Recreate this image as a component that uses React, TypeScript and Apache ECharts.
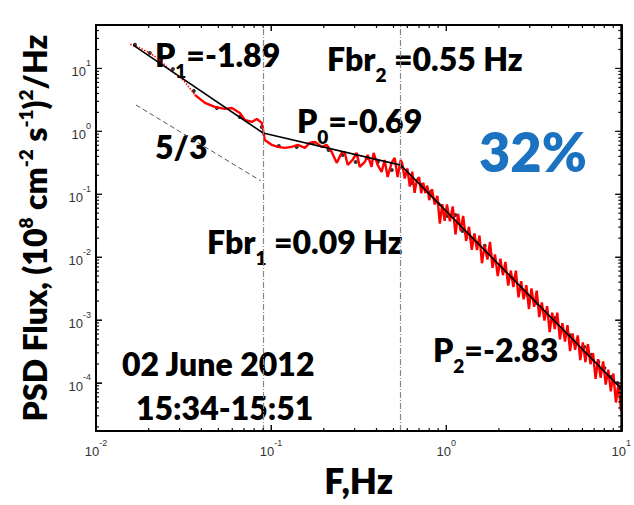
import React, { useEffect, useRef } from "react";
import * as echarts from "echarts";

// ---- axis extents ----
const X_MIN = 0.01;
const X_MAX = 10;
const Y_MIN = 1.72e-5;
const Y_MAX = 49;

// ---- red PSD curve (low-frequency dotted part) ----
const redLowFreq = [0.0157, 0.0178, 0.0203, 0.0232, 0.0264, 0.0294, 0.0322, 0.0367];
const redLowPsd = [24.2, 21.2, 17.6, 13.6, 9.47, 7.6, 6.1, 3.79];

// ---- red PSD curve (main part) ----
const redFreq = [
  0.0367, 0.0419, 0.0477, 0.0545, 0.0597, 0.0663, 0.0708, 0.0776, 0.0829, 0.0885,
  0.092, 0.101, 0.109, 0.12, 0.131, 0.142, 0.156, 0.166, 0.178, 0.195,
  0.208, 0.222, 0.237, 0.253, 0.263, 0.274, 0.292, 0.308, 0.321, 0.343,
  0.356, 0.375, 0.385, 0.406, 0.428, 0.445, 0.463, 0.488, 0.508, 0.528,
  0.55, 0.56, 0.58, 0.6, 0.62, 0.64, 0.66, 0.68, 0.7, 0.72,
  0.74, 0.76, 0.78, 0.8, 0.83, 0.86, 0.89, 0.92, 0.95, 0.98,
  1.01, 1.05, 1.09, 1.13, 1.17, 1.21, 1.25, 1.3, 1.35, 1.4,
  1.45, 1.5, 1.55, 1.6, 1.66, 1.72, 1.78, 1.84, 1.9, 1.97,
  2.04, 2.11, 2.18, 2.26, 2.34, 2.42, 2.5, 2.59, 2.68, 2.77,
  2.87, 2.97, 3.07, 3.18, 3.29, 3.4, 3.52, 3.64, 3.77, 3.9,
  4.03, 4.17, 4.31, 4.46, 4.61, 4.77, 4.93, 5.1, 5.27, 5.45,
  5.64, 5.83, 6.03, 6.24, 6.45, 6.67, 6.9, 7.13, 7.37, 7.62,
  7.88, 8.15, 8.43, 8.72, 9.01, 9.32, 9.64, 9.97,
];
const redPsd = [
  3.79, 2.83, 2.44, 2.27, 2.35, 1.96, 1.52, 1.41, 1.57, 1.36,
  0.73, 0.608, 0.565, 0.545, 0.565, 0.608, 0.545, 0.655, 0.678, 0.565,
  0.608, 0.47, 0.315, 0.454, 0.47, 0.292, 0.351, 0.454, 0.272, 0.326,
  0.421, 0.272, 0.454, 0.292, 0.226, 0.351, 0.188, 0.315, 0.378, 0.188,
  0.351, 0.311, 0.178, 0.256, 0.132, 0.229, 0.105, 0.167, 0.186, 0.104,
  0.152, 0.104, 0.137, 0.0804, 0.12, 0.0687, 0.0944, 0.034, 0.0695, 0.0377,
  0.069, 0.0372, 0.0638, 0.0229, 0.0488, 0.026, 0.0453, 0.0181, 0.0303, 0.0131,
  0.0237, 0.0129, 0.022, 0.008, 0.0154, 0.00916, 0.0175, 0.00676, 0.011, 0.00499,
  0.0094, 0.00516, 0.00838, 0.00353, 0.00611, 0.00333, 0.00608, 0.0023, 0.00416, 0.00213,
  0.00358, 0.00149, 0.00318, 0.00162, 0.00293, 0.00111, 0.00191, 0.00098, 0.00166, 0.000643,
  0.00131, 0.000718, 0.00131, 0.000493, 0.000893, 0.000456, 0.00083, 0.000321, 0.000612, 0.000337,
  0.000569, 0.00023, 0.00044, 0.000214, 0.000415, 0.000199, 0.000299, 0.000116, 0.000238, 0.000121,
  0.00022, 0.000094, 0.000162, 0.0000736, 0.000141, 0.0000488, 0.000099, 0.0000357,
];

// ---- binned averages (black dots) ----
const dotFreq = [
  0.0167, 0.0203, 0.0275, 0.0362, 0.049, 0.0662, 0.0885, 0.1107, 0.14, 0.173,
  0.213, 0.256, 0.304, 0.356, 0.407, 0.489, 0.557, 0.635, 0.724, 0.815,
  0.906, 1.02, 1.13, 1.24, 1.38, 1.51, 1.66, 1.79, 2.12, 2.39,
  2.69, 2.91, 3.28, 3.74, 4.15, 4.61, 5.06, 5.62, 6.16, 6.75,
  7.4, 8.01, 8.79, 9.5,
];
const dotPsd = [
  23.7, 17.6, 9.8, 4.39, 2.35, 1.69, 1.17, 0.586, 0.565, 0.655,
  0.506, 0.421, 0.326, 0.378, 0.326, 0.243, 0.272, 0.151, 0.141, 0.109,
  0.0701, 0.0452, 0.0469, 0.0261, 0.0202, 0.0168, 0.0151, 0.0112, 0.00604, 0.00467,
  0.00312, 0.00251, 0.00187, 0.00135, 0.00108, 0.000748, 0.000579, 0.000483, 0.000373, 0.000279,
  0.000216, 0.000173, 0.000125, 0.0001,
];

// ---- broken power-law fit ----
const fitFreq = [0.0163, 0.09, 0.55, 10];
const fitPsd = [23.5, 0.94, 0.29, 8.1e-5];

// ---- 5/3 reference slope ----
const refFreq = [0.0169, 0.0873];
const refPsd = [2.63, 0.163];

// ---- break frequencies ----
const breakFreqs = [0.09, 0.55];

// ---- tick values ----
const xMajorTicks = [0.01, 0.1, 1, 10];
const yMajorTicks = [1e-4, 1e-3, 1e-2, 1e-1, 1, 10];
const xMinorTicks: number[] = [];
for (let k = -2; k <= 0; k++) for (let m = 2; m <= 9; m++) xMinorTicks.push(m * Math.pow(10, k));
const yMinorTicks: number[] = [];
for (let k = -5; k <= 1; k++)
  for (let m = 2; m <= 9; m++) {
    const v = m * Math.pow(10, k);
    if (v > Y_MIN && v < Y_MAX) yMinorTicks.push(v);
  }

// ---- plot frame corners (data space) ----
const frameFreq = [X_MIN, X_MAX, X_MAX, X_MIN, X_MIN];
const framePsd = [Y_MIN, Y_MIN, Y_MAX, Y_MAX, Y_MIN];

const pairs = (xs: number[], ys: number[]) => xs.map((x, i) => [x, ys[i]]);

const powLabel = (v: number) => {
  const e = Math.log10(v);
  const r = Math.round(e);
  if (Math.abs(e - r) > 1e-6) return "";
  return `{b|10}{s|${r}}`;
};

const labelRich = {
  b: { fontSize: 13, fontFamily: "Liberation Sans", color: "#333", verticalAlign: "bottom", lineHeight: 20 },
  s: { fontSize: 9, fontFamily: "Liberation Sans", color: "#333", verticalAlign: "top", lineHeight: 12 },
};

const FONT = "Lato";
const WEIGHT = 800;

const annRich = (main: number, sub: number) => ({
  m: { fontSize: main, fontWeight: WEIGHT, fontFamily: FONT, fill: "#000", lineHeight: 42, verticalAlign: "top" },
  s: { fontSize: sub, fontWeight: WEIGHT, fontFamily: FONT, fill: "#000", verticalAlign: "bottom" },
});

const ann = (text: string, x: number, capTop: number) => ({
  type: "text",
  x,
  y: capTop - 7,
  silent: true,
  style: {
    text,
    fill: "#000",
    align: "left",
    verticalAlign: "top",
    rich: annRich(32, 19),
  },
});

export default function App() {
  const ref = useRef<HTMLDivElement>(null);
  useEffect(() => {
    if (!ref.current) return;
    const chart = echarts.init(ref.current, null, { renderer: "svg" });
    const axisCommon = {
      type: "log",
      logBase: 10,
      splitLine: { show: false },
      axisLine: { show: true, lineStyle: { color: "#000", width: 2 } },
      axisTick: { show: true, inside: true, length: 6, lineStyle: { color: "#111", width: 1 } },
    };
    const tickStyle = { stroke: "#111", lineWidth: 1.2, fill: "none" };
    const tickRender = (dir: "x" | "y", len: number) => (_params: any, api: any) => {
      const tl = api.coord([X_MIN, Y_MAX]);
      const br = api.coord([X_MAX, Y_MIN]);
      const p = api.coord([api.value(0), api.value(1)]);
      if (dir === "x") {
        const x = p[0];
        return {
          type: "group",
          children: [
            { type: "polyline", shape: { points: [[x, br[1]], [x, br[1] - len]] }, style: tickStyle },
            { type: "polyline", shape: { points: [[x, tl[1]], [x, tl[1] + len]] }, style: tickStyle },
          ],
        };
      }
      const y = p[1];
      return {
        type: "group",
        children: [
          { type: "polyline", shape: { points: [[tl[0], y], [tl[0] + len, y]] }, style: tickStyle },
          { type: "polyline", shape: { points: [[br[0], y], [br[0] - len, y]] }, style: tickStyle },
        ],
      };
    };
    const tickSeries = (dir: "x" | "y", vals: number[], len: number) => ({
      type: "custom",
      silent: true,
      clip: false,
      renderItem: tickRender(dir, len),
      data: vals.map((v) => (dir === "x" ? [v, 1] : [1, v])),
      encode: { x: 0, y: 1 },
      z: 10,
    });

    chart.setOption({
      animation: false,
      grid: { left: 96, right: 12, top: 25, bottom: 74 },
      xAxis: [
        {
          ...axisCommon,
          min: X_MIN,
          max: X_MAX,
          position: "bottom",
          name: "F,Hz",
          nameLocation: "middle",
          nameGap: 30,
          nameTextStyle: { fontSize: 35, fontWeight: WEIGHT, fontFamily: FONT, color: "#000" },
          axisLabel: { formatter: powLabel, rich: labelRich, margin: 7 },
        },
        { ...axisCommon, min: X_MIN, max: X_MAX, position: "top", axisLabel: { show: false } },
      ],
      yAxis: [
        {
          ...axisCommon,
          min: Y_MIN,
          max: Y_MAX,
          position: "left",
          name: "PSD Flux, (10{s|8} cm{s|-2} s{s|-1}){s|2}/Hz",
          nameLocation: "middle",
          nameRotate: 90,
          nameGap: 44,
          nameTextStyle: {
            fontSize: 32,
            fontWeight: WEIGHT,
            fontFamily: FONT,
            color: "#000",
            lineHeight: 36,
            rich: {
              s: { fontSize: 19, fontWeight: WEIGHT, fontFamily: FONT, color: "#000", verticalAlign: "top", lineHeight: 22 },
            },
          },
          axisLabel: { formatter: powLabel, rich: labelRich, margin: 5 },
        },
        { ...axisCommon, min: Y_MIN, max: Y_MAX, position: "right", axisLabel: { show: false } },
      ],
      series: [
        {
          type: "line",
          data: pairs(refFreq, refPsd),
          symbol: "none",
          lineStyle: { color: "#555", width: 1, type: [5, 3] },
          silent: true,
        },
        {
          type: "line",
          data: pairs(redLowFreq, redLowPsd),
          symbol: "none",
          lineStyle: { color: "#ff0000", width: 1.5, type: [1.5, 1.5] },
          silent: true,
        },
        {
          type: "line",
          data: pairs(redFreq, redPsd),
          symbol: "none",
          lineStyle: { color: "#ff0000", width: 2.4 },
          silent: true,
        },
        {
          type: "line",
          data: pairs(fitFreq, fitPsd),
          symbol: "none",
          lineStyle: { color: "#000", width: 1.6 },
          silent: true,
          markLine: {
            silent: true,
            symbol: "none",
            label: { show: false },
            lineStyle: { color: "#888", width: 1.2, type: [6, 2, 1, 2] },
            data: breakFreqs.map((f) => ({ xAxis: f })),
          },
        },
        {
          type: "scatter",
          data: pairs(dotFreq, dotPsd),
          symbol: "circle",
          symbolSize: 4,
          itemStyle: { color: "#000" },
          silent: true,
        },
        {
          type: "line",
          data: pairs(frameFreq, framePsd),
          symbol: "none",
          clip: false,
          lineStyle: { color: "#000", width: 1.8 },
          silent: true,
          z: 11,
        },
        tickSeries("x", xMinorTicks, 3),
        tickSeries("y", yMinorTicks, 3),
        tickSeries("x", xMajorTicks, 6),
        tickSeries("y", yMajorTicks, 6),
      ],
      graphic: [
        ann("{m|P}{s|1}{m|=-1.89}", 155, 45),
        ann("{m|Fbr}{s|2}{m| =0.55 Hz}", 327, 49),
        ann("{m|P}{s|0}{m|=-0.69}", 297, 111),
        ann("{m|5/3}", 155, 137),
        ann("{m|Fbr}{s|1}{m| =0.09 Hz}", 207, 232),
        ann("{m|P}{s|2}{m|=-2.83}", 433, 340),
        ann("{m|02 June 2012}", 122, 354),
        ann("{m|15:34-15:51}", 136, 398),
        {
          type: "text",
          x: 479,
          y: 132 - 8,
          silent: true,
          style: {
            text: "32%",
            fill: "#1a72c0",
            font: `${WEIGHT} 54px ${FONT}`,
            align: "left",
            verticalAlign: "top",
          },
        },
      ],
    });
    return () => chart.dispose();
  }, []);
  return <div ref={ref} style={{ position: "fixed", left: 0, top: 0, width: 634, height: 505, background: "#fff" }} />;
}
